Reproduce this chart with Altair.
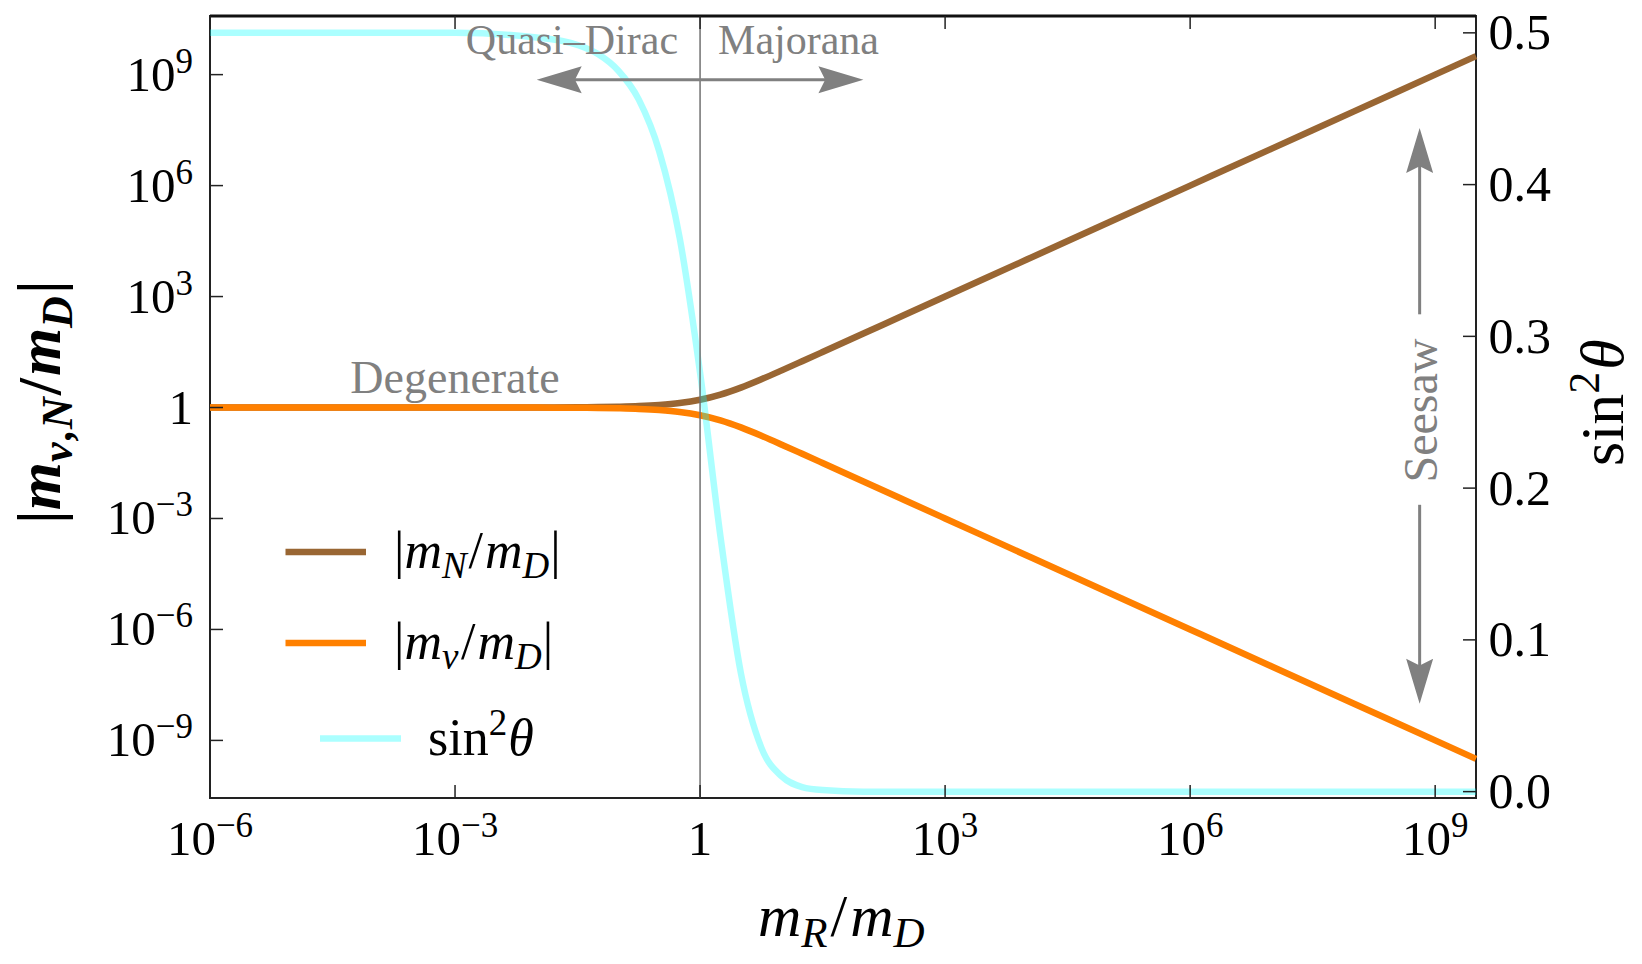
import altair as alt
import pandas as pd

FONT = "Liberation Serif"
GRAY = "#808080"
BROWN = "#996633"
ORANGE = "#FF8000"
CYAN = "#00FFFF"

# ---------------- data ----------------
# x = log10(m_R/m_D)
x_exp = [-6, -5, -4, -3, -2, -1.5, -1.25, -1, -0.75, -0.5, -0.25, 0, 0.25, 0.5,
         0.75, 1, 1.25, 1.5, 2, 2.5, 3, 4, 5, 6, 7, 8, 9, 9.5]
# log10 |m_N/m_D|
log_mN = [0, 0, 0, 0, 0.002, 0.007, 0.012, 0.022, 0.038, 0.068, 0.12, 0.209, 0.348, 0.538,
          0.763, 1.004, 1.251, 1.5, 2.0, 2.5, 3.0, 4.0, 5.0, 6.0, 7.0, 8.0, 9.0, 9.5]
# log10 |m_nu/m_D|
log_mnu = [0, 0, 0, 0, -0.002, -0.007, -0.012, -0.022, -0.038, -0.068, -0.12, -0.209, -0.348, -0.538,
           -0.763, -1.004, -1.251, -1.5, -2.0, -2.5, -3.0, -4.0, -5.0, -6.0, -7.0, -8.0, -9.0, -9.5]
# sin^2 theta (right axis)
sin2 = [0.5, 0.5, 0.5, 0.5, 0.497, 0.492, 0.486, 0.475, 0.456, 0.422, 0.365, 0.276, 0.168, 0.078,
        0.029, 0.010, 0.003, 0.001, 0.0, 0.0, 0.0, 0.0, 0.0, 0.0, 0.0, 0.0, 0.0, 0.0]

x_ticks = [-6, -3, 0, 3, 6, 9]
x_tick_base = ["10", "10", "1", "10", "10", "10"]
x_tick_sup = ["−6", "−3", "", "3", "6", "9"]
y_ticks = [-9, -6, -3, 0, 3, 6, 9]
y_tick_base = ["10", "10", "10", "1", "10", "10", "10"]
y_tick_sup = ["−9", "−6", "−3", "", "3", "6", "9"]
r_ticks = [0.0, 0.1, 0.2, 0.3, 0.4, 0.5]
r_tick_labels = ["0.0", "0.1", "0.2", "0.3", "0.4", "0.5"]

# annotations (data coordinates: log10 x, log10 y)
degenerate_label = ["Degenerate"]
degenerate_pos = [-3, 0.38]
region_labels = ["Quasi–Dirac", "Majorana"]
region_y = 9.57
harrow_y = 8.86
harrow_tips = [-2.0, 2.0]
seesaw_label = ["Seesaw"]
seesaw_x = 8.81
seesaw_y = -0.08
varrow_up = [2.52, 7.556]
varrow_down = [-2.63, -8.01]

X_DOMAIN = [-6, 9.5]
LY_DOMAIN = [-10.557, 10.585]
RY_DOMAIN = [-0.0042, 0.5111]
W, H = 1266, 782

# ---------------- helpers ----------------
def X(field="x"):
    return alt.X(f"{field}:Q", scale=alt.Scale(domain=X_DOMAIN, nice=False, zero=False), axis=None)

def LY(field="y"):
    return alt.Y(f"{field}:Q", scale=alt.Scale(domain=LY_DOMAIN, nice=False, zero=False), axis=None)

def RY(field="y"):
    return alt.Y(f"{field}:Q", scale=alt.Scale(domain=RY_DOMAIN, nice=False, zero=False), axis=None)

one = pd.DataFrame({"k": [0]})

def rich(pieces, x, y, angle=0, color="black"):
    out = []
    adv = 0.0
    for p in pieces:
        adv += p.get("pre", 0)
        kw = dict(text=p["t"], font=FONT, fontSize=p["size"],
                  fontStyle="italic" if p.get("it") else "normal",
                  fontWeight="bold" if p.get("bold") else "normal",
                  align="left", baseline="alphabetic", dx=adv, dy=p.get("dy", 0), color=color)
        if angle:
            kw["angle"] = angle
        out.append(alt.Chart(one).mark_text(**kw).encode(x=alt.value(x), y=alt.value(y)))
        adv += p["w"] * p["size"]
    return out

curves = pd.DataFrame({"x": x_exp, "mN": log_mN, "mnu": log_mnu, "s2": sin2})

layers = []

# curves
layers.append(alt.Chart(curves).mark_line(color=BROWN, strokeWidth=6.5, interpolate="monotone")
              .encode(x=X(), y=LY("mN")))
layers.append(alt.Chart(curves).mark_line(color=ORANGE, strokeWidth=6.5, interpolate="monotone")
              .encode(x=X(), y=LY("mnu")))
layers.append(alt.Chart(curves).mark_line(color=CYAN, opacity=0.33, strokeWidth=6.5, interpolate="monotone")
              .encode(x=X(), y=RY("s2")))

# vertical line at m_R = m_D
layers.append(alt.Chart(pd.DataFrame({"x": [0]})).mark_rule(color="#707070", strokeWidth=1.5)
              .encode(x=X(), y=alt.value(0), y2=alt.value(H)))

# top frame edge drawn a little heavier, as in the reference
layers.append(alt.Chart(one).mark_rule(color="#111", strokeWidth=3)
              .encode(x=alt.value(0), x2=alt.value(W), y=alt.value(0)))

# ticks (inward)
xt = pd.DataFrame({"x": x_ticks, "base": x_tick_base, "sup": x_tick_sup})
layers.append(alt.Chart(xt).mark_rule(color="#222", strokeWidth=1.5)
              .encode(x=X(), y=alt.value(H), y2=alt.value(H - 13)))
layers.append(alt.Chart(xt).mark_rule(color="#222", strokeWidth=1.5)
              .encode(x=X(), y=alt.value(0), y2=alt.value(13)))
yt = pd.DataFrame({"y": y_ticks, "base": y_tick_base, "sup": y_tick_sup})
layers.append(alt.Chart(yt).mark_rule(color="#222", strokeWidth=1.5)
              .encode(y=LY(), x=alt.value(0), x2=alt.value(13)))
rt = pd.DataFrame({"y": r_ticks, "lab": r_tick_labels})
layers.append(alt.Chart(rt).mark_rule(color="#222", strokeWidth=1.5)
              .encode(y=RY(), x=alt.value(W), x2=alt.value(W - 13)))

# tick labels
BS, SS = 49, 35
W_NEG = (0.564 + 0.5) * SS
W_POS = 0.5 * SS
neg = "indexof(datum.sup, '−') == 0"
pos = "datum.sup != '' && indexof(datum.sup, '−') != 0"
none_ = "datum.sup == ''"

XB_Y, XS_Y = 839, 821
for cond, we in [(neg, W_NEG), (pos, W_POS)]:
    d = (2 * BS * 0.5 - we) / 2.0
    layers.append(alt.Chart(xt).transform_filter(cond)
                  .mark_text(font=FONT, fontSize=BS, align="right", baseline="alphabetic", dx=d, color="black")
                  .encode(x=X(), y=alt.value(XB_Y), text="base:N"))
    layers.append(alt.Chart(xt).transform_filter(cond)
                  .mark_text(font=FONT, fontSize=SS, align="left", baseline="alphabetic", dx=d, color="black")
                  .encode(x=X(), y=alt.value(XS_Y), text="sup:N"))
layers.append(alt.Chart(xt).transform_filter(none_)
              .mark_text(font=FONT, fontSize=BS, align="center", baseline="alphabetic", color="black")
              .encode(x=X(), y=alt.value(XB_Y), text="base:N"))

RE = -17
for cond, we in [(neg, W_NEG), (pos, W_POS)]:
    layers.append(alt.Chart(yt).transform_filter(cond)
                  .mark_text(font=FONT, fontSize=BS, align="right", baseline="alphabetic",
                             dx=RE - we, dy=16, color="black")
                  .encode(y=LY(), x=alt.value(0), text="base:N"))
    layers.append(alt.Chart(yt).transform_filter(cond)
                  .mark_text(font=FONT, fontSize=SS, align="right", baseline="alphabetic",
                             dx=RE, dy=-2, color="black")
                  .encode(y=LY(), x=alt.value(0), text="sup:N"))
layers.append(alt.Chart(yt).transform_filter(none_)
              .mark_text(font=FONT, fontSize=BS, align="right", baseline="alphabetic",
                         dx=RE, dy=16, color="black")
              .encode(y=LY(), x=alt.value(0), text="base:N"))

layers.append(alt.Chart(rt).mark_text(font=FONT, fontSize=50, align="left", baseline="alphabetic",
                                      dx=12.5, dy=16.5, color="black")
              .encode(y=RY(), x=alt.value(W), text="lab:N"))

# annotations
layers.append(alt.Chart(pd.DataFrame({"x": [degenerate_pos[0]], "y": [degenerate_pos[1]], "t": degenerate_label}))
              .mark_text(font=FONT, fontSize=46, align="center", baseline="alphabetic", color=GRAY)
              .encode(x=X(), y=LY(), text="t:N"))
layers.append(alt.Chart(pd.DataFrame({"x": [0], "y": [region_y], "t": [region_labels[0]]}))
              .mark_text(font=FONT, fontSize=42, align="right", baseline="alphabetic", dx=-22, color=GRAY)
              .encode(x=X(), y=LY(), text="t:N"))
layers.append(alt.Chart(pd.DataFrame({"x": [0], "y": [region_y], "t": [region_labels[1]]}))
              .mark_text(font=FONT, fontSize=42, align="left", baseline="alphabetic", dx=18, color=GRAY)
              .encode(x=X(), y=LY(), text="t:N"))
layers.append(alt.Chart(pd.DataFrame({"x": [seesaw_x], "y": [seesaw_y], "t": seesaw_label}))
              .mark_text(font=FONT, fontSize=48, align="center", baseline="alphabetic", angle=270, dy=17, color=GRAY)
              .encode(x=X(), y=LY(), text="t:N"))

# horizontal arrows
layers.append(alt.Chart(pd.DataFrame({"x": [harrow_tips[0] + 0.2], "x2": [harrow_tips[1] - 0.2], "y": [harrow_y]}))
              .mark_rule(color=GRAY, strokeWidth=3)
              .encode(x=X(), x2="x2:Q", y=LY()))
layers.append(alt.Chart(pd.DataFrame({"x": [harrow_tips[0]], "y": [harrow_y]}))
              .mark_point(shape="M0,0 L2,-0.6 L1.7,0 L2,0.6 Z", filled=True, size=2025, color=GRAY, opacity=1)
              .encode(x=X(), y=LY()))
layers.append(alt.Chart(pd.DataFrame({"x": [harrow_tips[1]], "y": [harrow_y]}))
              .mark_point(shape="M0,0 L-2,-0.6 L-1.7,0 L-2,0.6 Z", filled=True, size=2025, color=GRAY, opacity=1)
              .encode(x=X(), y=LY()))

# vertical arrows
layers.append(alt.Chart(pd.DataFrame({"x": [seesaw_x], "y": [varrow_up[0]], "y2": [varrow_up[1] - 0.4]}))
              .mark_rule(color=GRAY, strokeWidth=3)
              .encode(x=X(), y=LY(), y2="y2:Q"))
layers.append(alt.Chart(pd.DataFrame({"x": [seesaw_x], "y": [varrow_up[1]]}))
              .mark_point(shape="M0,0 L-0.6,2 L0,1.7 L0.6,2 Z", filled=True, size=2025, color=GRAY, opacity=1)
              .encode(x=X(), y=LY()))
layers.append(alt.Chart(pd.DataFrame({"x": [seesaw_x], "y": [varrow_down[0]], "y2": [varrow_down[1] + 0.4]}))
              .mark_rule(color=GRAY, strokeWidth=3)
              .encode(x=X(), y=LY(), y2="y2:Q"))
layers.append(alt.Chart(pd.DataFrame({"x": [seesaw_x], "y": [varrow_down[1]]}))
              .mark_point(shape="M0,0 L-0.6,-2 L0,-1.7 L0.6,-2 Z", filled=True, size=2025, color=GRAY, opacity=1)
              .encode(x=X(), y=LY()))

# legend (inside the frame, lower left)
layers.append(alt.Chart(one).mark_rule(color=BROWN, strokeWidth=6.5)
              .encode(x=alt.value(75.5), x2=alt.value(156), y=alt.value(536)))
layers.append(alt.Chart(one).mark_rule(color=ORANGE, strokeWidth=6.5)
              .encode(x=alt.value(75.5), x2=alt.value(156), y=alt.value(627)))
layers.append(alt.Chart(one).mark_rule(color=CYAN, opacity=0.33, strokeWidth=6.5)
              .encode(x=alt.value(110), x2=alt.value(191), y=alt.value(722.5)))

LS, LSS = 52, 37
def ratio_pieces(sub, subw):
    return [
        {"t": "|", "size": LS, "w": 0.2},
        {"t": "m", "size": LS, "w": 0.722, "it": True},
        {"t": sub, "size": LSS, "w": subw, "it": True, "dy": 10},
        {"t": "/", "size": LS, "w": 0.278, "pre": 2},
        {"t": "m", "size": LS, "w": 0.722, "it": True, "pre": 2},
        {"t": "D", "size": LSS, "w": 0.722, "it": True, "dy": 10},
        {"t": "|", "size": LS, "w": 0.2, "pre": 1},
    ]

layers += rich(ratio_pieces("N", 0.667), 184, 552)
layers += rich(ratio_pieces("ν", 0.46), 184, 643)
layers += rich([
    {"t": "sin", "size": LS, "w": 1.167},
    {"t": "2", "size": LSS, "w": 0.5, "dy": -20},
    {"t": "θ", "size": LS, "w": 0.5, "it": True, "pre": 1},
], 218, 739)

# axis titles
layers += rich([
    {"t": "m", "size": 60, "w": 0.722, "it": True},
    {"t": "R", "size": 43, "w": 0.611, "it": True, "dy": 11},
    {"t": "/", "size": 60, "w": 0.278, "pre": 3},
    {"t": "m", "size": 60, "w": 0.722, "it": True, "pre": 3},
    {"t": "D", "size": 43, "w": 0.722, "it": True, "dy": 11},
], 548, 920)

layers += rich([
    {"t": "|", "size": 62, "w": 0.22, "bold": True},
    {"t": "m", "size": 62, "w": 0.778, "it": True, "bold": True},
    {"t": "ν", "size": 44, "w": 0.5, "it": True, "bold": True, "dy": 12},
    {"t": ",", "size": 44, "w": 0.25, "it": True, "bold": True, "dy": 12},
    {"t": "N", "size": 44, "w": 0.722, "it": True, "bold": True, "dy": 12},
    {"t": "/", "size": 62, "w": 0.278, "bold": True, "pre": 2},
    {"t": "m", "size": 62, "w": 0.778, "it": True, "bold": True, "pre": 2},
    {"t": "D", "size": 44, "w": 0.722, "it": True, "bold": True, "dy": 12},
    {"t": "|", "size": 62, "w": 0.22, "bold": True, "pre": 2},
], -150, 508, angle=270)

layers += rich([
    {"t": "sin", "size": 62, "w": 1.167},
    {"t": "2", "size": 44, "w": 0.5, "dy": -24},
    {"t": "θ", "size": 62, "w": 0.5, "it": True, "pre": 2},
], 1413, 450, angle=270)

chart = (
    alt.layer(*layers)
    .resolve_scale(y="independent")
    .properties(width=W, height=H,
                autosize=alt.AutoSizeParams(type="none"),
                padding={"left": 210, "top": 16, "right": 166, "bottom": 166},
                background="white")
    .configure_view(stroke="#222", strokeWidth=2)
)

chart.save("out.html", embed_options={"renderer": "svg", "actions": False})
